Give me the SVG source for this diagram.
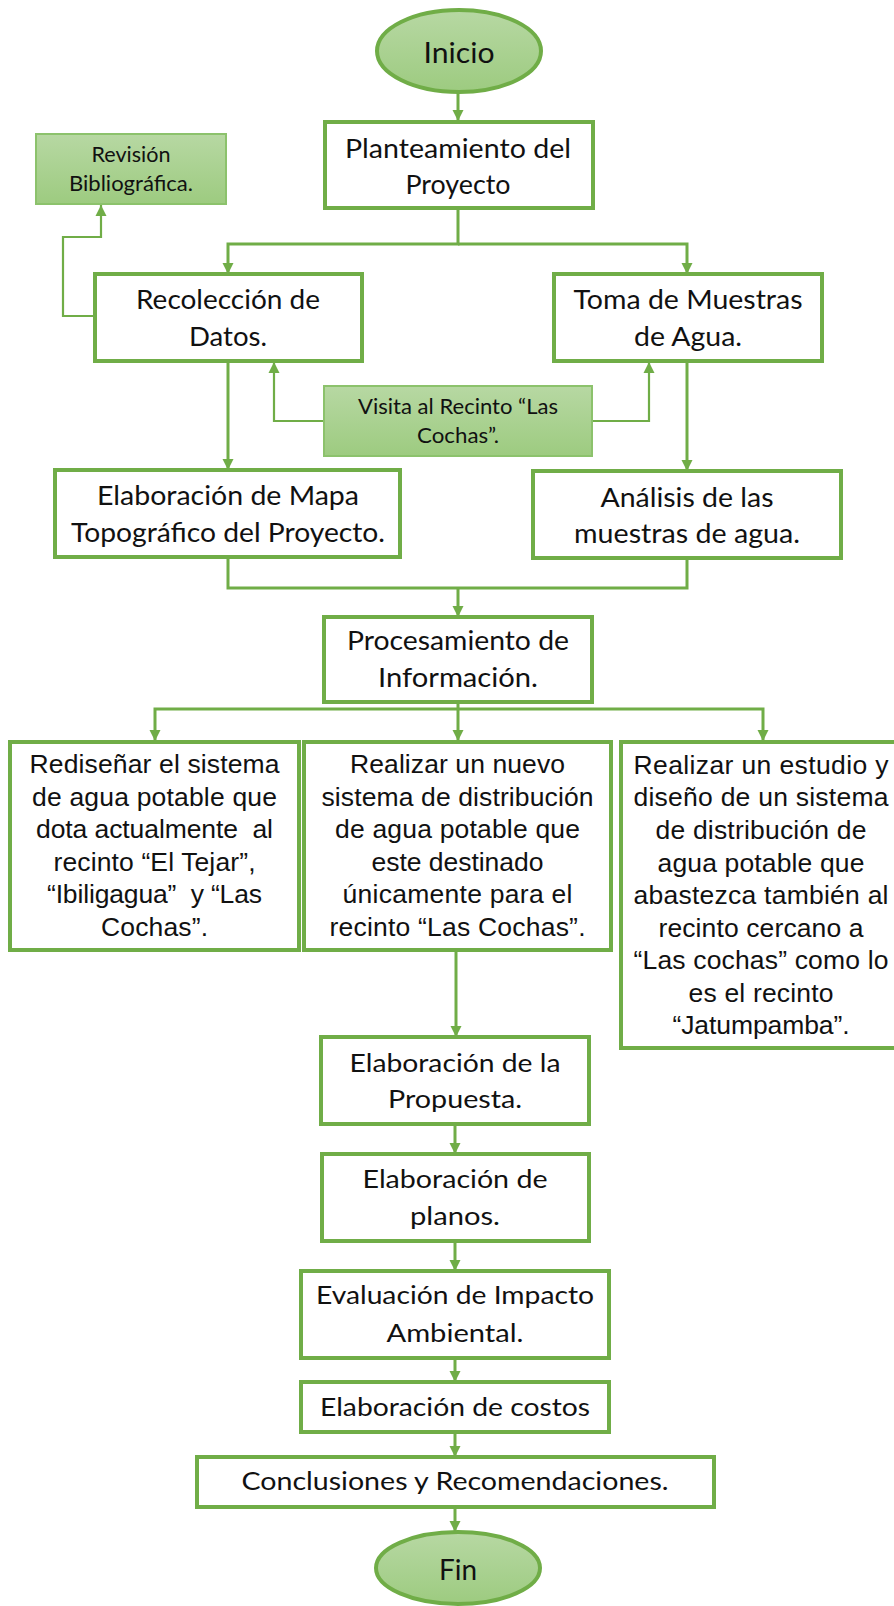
<svg xmlns="http://www.w3.org/2000/svg" width="894" height="1606" viewBox="0 0 894 1606">
<defs>
<linearGradient id="gf" x1="0" y1="0" x2="0" y2="1">
<stop offset="0" stop-color="#b7d8a3"/>
<stop offset="1" stop-color="#9dcb80"/>
</linearGradient>
<marker id="ah" markerUnits="userSpaceOnUse" markerWidth="12" markerHeight="12" refX="11" refY="6" orient="auto">
<path d="M0,0.5 L11,6 L0,11.5 z" fill="#70ad47"/>
</marker>
<style>
.box{fill:#fff;stroke:#70ad47;stroke-width:4}
.gbox{fill:url(#gf);stroke:#8cc26c;stroke-width:2}
.ell{fill:url(#gf);stroke:#70ad47;stroke-width:4}
.c{fill:none;stroke:#70ad47;stroke-width:3}
.ct{fill:none;stroke:#70ad47;stroke-width:2.2}
.cal{font-family:Lato,"Liberation Sans",sans-serif;fill:#111;text-anchor:middle}
.ari{font-family:"Liberation Sans",Arial,sans-serif;font-size:26.5px;fill:#111;text-anchor:middle;white-space:pre}
</style>
</defs>

<g id="connectors">
<path class="c" d="M458,93 V121" marker-end="url(#ah)"/>
<path class="c" d="M458,207 V244 H228 V274" marker-end="url(#ah)"/>
<path class="c" d="M458,244 H687 V274" marker-end="url(#ah)"/>
<path class="ct" d="M95,316 H63 V237 H101 V205" marker-end="url(#ah)"/>
<path class="ct" d="M324,421 H274 V362" marker-end="url(#ah)"/>
<path class="ct" d="M592,421 H649 V362" marker-end="url(#ah)"/>
<path class="c" d="M228,361 V470" marker-end="url(#ah)"/>
<path class="c" d="M687,361 V471" marker-end="url(#ah)"/>
<path class="c" d="M228,557 V588 H687 V558"/>
<path class="c" d="M458,588 V617" marker-end="url(#ah)"/>
<path class="c" d="M458,702 V709"/>
<path class="c" d="M458,709 H155 V741" marker-end="url(#ah)"/>
<path class="c" d="M458,709 V741" marker-end="url(#ah)"/>
<path class="c" d="M458,709 H763 V741" marker-end="url(#ah)"/>
<path class="c" d="M456,950 V1037" marker-end="url(#ah)"/>
<path class="c" d="M455,1124 V1154" marker-end="url(#ah)"/>
<path class="c" d="M455,1241 V1271" marker-end="url(#ah)"/>
<path class="c" d="M455,1358 V1382" marker-end="url(#ah)"/>
<path class="c" d="M455,1432 V1457" marker-end="url(#ah)"/>
<path class="c" d="M455,1507 V1532" marker-end="url(#ah)"/>
</g>

<g id="inicio">
<ellipse class="ell" cx="459" cy="51" rx="82" ry="41"/>
<text class="cal" x="459" y="63" font-size="28" textLength="71" lengthAdjust="spacingAndGlyphs">Inicio</text>
</g>

<g id="planteamiento">
<rect class="box" x="325" y="122" width="268" height="86"/>
<text class="cal" x="458" y="158" font-size="26.5" textLength="226" lengthAdjust="spacingAndGlyphs">Planteamiento del</text>
<text class="cal" x="458" y="194" font-size="26.5" textLength="105" lengthAdjust="spacingAndGlyphs">Proyecto</text>
</g>

<g id="revision">
<rect class="gbox" x="36" y="134" width="190" height="70"/>
<text class="cal" x="131" y="162" font-size="21" textLength="79" lengthAdjust="spacingAndGlyphs">Revisión</text>
<text class="cal" x="131" y="191" font-size="21" textLength="124" lengthAdjust="spacingAndGlyphs">Bibliográfica.</text>
</g>

<g id="recoleccion">
<rect class="box" x="95" y="274" width="267" height="87"/>
<text class="cal" x="228" y="309" font-size="26.5" textLength="184" lengthAdjust="spacingAndGlyphs">Recolección de</text>
<text class="cal" x="228" y="346" font-size="26.5" textLength="78" lengthAdjust="spacingAndGlyphs">Datos.</text>
</g>

<g id="toma">
<rect class="box" x="554" y="274" width="268" height="87"/>
<text class="cal" x="688" y="309" font-size="26.5" textLength="229" lengthAdjust="spacingAndGlyphs">Toma de Muestras</text>
<text class="cal" x="688" y="346" font-size="26.5" textLength="108" lengthAdjust="spacingAndGlyphs">de Agua.</text>
</g>

<g id="visita">
<rect class="gbox" x="324" y="386" width="268" height="70"/>
<text class="cal" x="458" y="414" font-size="21" textLength="200" lengthAdjust="spacingAndGlyphs">Visita al Recinto “Las</text>
<text class="cal" x="458" y="443" font-size="21" textLength="82" lengthAdjust="spacingAndGlyphs">Cochas”.</text>
</g>

<g id="mapa">
<rect class="box" x="55" y="470" width="345" height="87"/>
<text class="cal" x="228" y="505" font-size="26.5" textLength="262" lengthAdjust="spacingAndGlyphs">Elaboración de Mapa</text>
<text class="cal" x="228" y="542" font-size="26.5" textLength="314" lengthAdjust="spacingAndGlyphs">Topográfico del Proyecto.</text>
</g>

<g id="analisis">
<rect class="box" x="533" y="471" width="308" height="87"/>
<text class="cal" x="687" y="507" font-size="26.5" textLength="173" lengthAdjust="spacingAndGlyphs">Análisis de las</text>
<text class="cal" x="687" y="543" font-size="26.5" textLength="226" lengthAdjust="spacingAndGlyphs">muestras de agua.</text>
</g>

<g id="procesamiento">
<rect class="box" x="324" y="617" width="268" height="85"/>
<text class="cal" x="458" y="650" font-size="26.5" textLength="222" lengthAdjust="spacingAndGlyphs">Procesamiento de</text>
<text class="cal" x="458" y="687" font-size="26.5" textLength="160" lengthAdjust="spacingAndGlyphs">Información.</text>
</g>

<g id="opcion1">
<rect class="box" x="10" y="742" width="289" height="208"/>
<text class="ari" x="154.5" y="773" textLength="250" lengthAdjust="spacing">Rediseñar el sistema</text>
<text class="ari" x="154.5" y="806" textLength="245" lengthAdjust="spacing">de agua potable que</text>
<text class="ari" x="154.5" y="838" textLength="237" lengthAdjust="spacing">dota actualmente  al</text>
<text class="ari" x="154.5" y="871" textLength="202" lengthAdjust="spacing">recinto “El Tejar”,</text>
<text class="ari" x="154.5" y="903" textLength="215" lengthAdjust="spacing">“Ibiligagua”  y “Las</text>
<text class="ari" x="154.5" y="936" textLength="107" lengthAdjust="spacing">Cochas”.</text>
</g>

<g id="opcion2">
<rect class="box" x="304" y="742" width="307" height="208"/>
<text class="ari" x="457.5" y="773" textLength="215" lengthAdjust="spacing">Realizar un nuevo</text>
<text class="ari" x="457.5" y="806" textLength="272" lengthAdjust="spacing">sistema de distribución</text>
<text class="ari" x="457.5" y="838" textLength="245" lengthAdjust="spacing">de agua potable que</text>
<text class="ari" x="457.5" y="871" textLength="172" lengthAdjust="spacing">este destinado</text>
<text class="ari" x="457.5" y="903" textLength="230" lengthAdjust="spacing">únicamente para el</text>
<text class="ari" x="457.5" y="936" textLength="256" lengthAdjust="spacing">recinto “Las Cochas”.</text>
</g>

<g id="opcion3">
<rect class="box" x="621" y="742" width="280" height="306"/>
<text class="ari" x="761" y="774" textLength="255" lengthAdjust="spacing">Realizar un estudio y</text>
<text class="ari" x="761" y="806" textLength="255" lengthAdjust="spacing">diseño de un sistema</text>
<text class="ari" x="761" y="839" textLength="211" lengthAdjust="spacing">de distribución de</text>
<text class="ari" x="761" y="872" textLength="207" lengthAdjust="spacing">agua potable que</text>
<text class="ari" x="761" y="904" textLength="255" lengthAdjust="spacing">abastezca también al</text>
<text class="ari" x="761" y="937" textLength="205" lengthAdjust="spacing">recinto cercano a</text>
<text class="ari" x="761" y="969" textLength="255" lengthAdjust="spacing">“Las cochas” como lo</text>
<text class="ari" x="761" y="1002" textLength="145" lengthAdjust="spacing">es el recinto</text>
<text class="ari" x="761" y="1034" textLength="177" lengthAdjust="spacing">“Jatumpamba”.</text>
</g>

<g id="propuesta">
<rect class="box" x="321" y="1037" width="268" height="87"/>
<text class="cal" x="455" y="1072" font-size="25.5" textLength="211" lengthAdjust="spacingAndGlyphs">Elaboración de la</text>
<text class="cal" x="455" y="1108" font-size="25.5" textLength="134" lengthAdjust="spacingAndGlyphs">Propuesta.</text>
</g>

<g id="planos">
<rect class="box" x="322" y="1154" width="267" height="87"/>
<text class="cal" x="455" y="1188" font-size="25.5" textLength="185" lengthAdjust="spacingAndGlyphs">Elaboración de</text>
<text class="cal" x="455" y="1225" font-size="25.5" textLength="90" lengthAdjust="spacingAndGlyphs">planos.</text>
</g>

<g id="evaluacion">
<rect class="box" x="301" y="1271" width="308" height="87"/>
<text class="cal" x="455" y="1304" font-size="25.5" textLength="278" lengthAdjust="spacingAndGlyphs">Evaluación de Impacto</text>
<text class="cal" x="455" y="1342" font-size="25.5" textLength="137" lengthAdjust="spacingAndGlyphs">Ambiental.</text>
</g>

<g id="costos">
<rect class="box" x="301" y="1382" width="308" height="50"/>
<text class="cal" x="455" y="1416" font-size="25.5" textLength="270" lengthAdjust="spacingAndGlyphs">Elaboración de costos</text>
</g>

<g id="conclusiones">
<rect class="box" x="197" y="1457" width="517" height="50"/>
<text class="cal" x="455" y="1490" font-size="25.5" textLength="427" lengthAdjust="spacingAndGlyphs">Conclusiones y Recomendaciones.</text>
</g>

<g id="fin">
<ellipse class="ell" cx="458" cy="1568" rx="82" ry="36"/>
<text class="cal" x="458" y="1580" font-size="28" textLength="38" lengthAdjust="spacingAndGlyphs">Fin</text>
</g>
</svg>
